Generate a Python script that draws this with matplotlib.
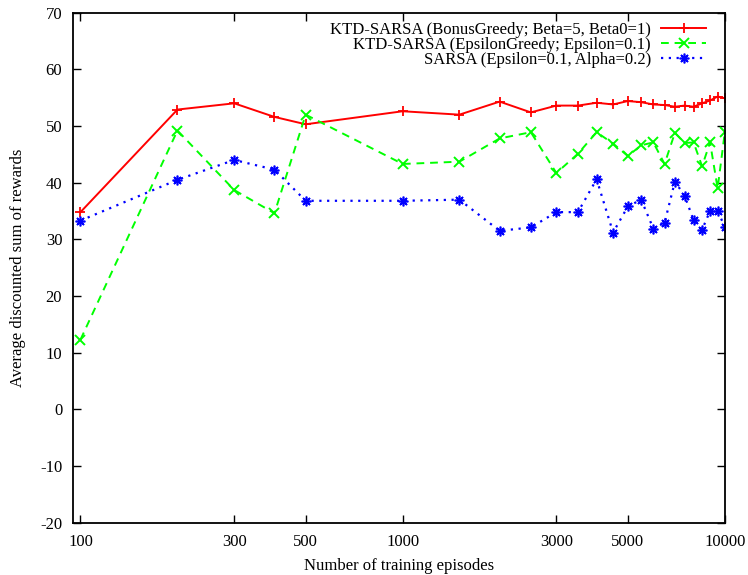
import matplotlib
matplotlib.use("Agg")
import matplotlib.pyplot as plt
from matplotlib.ticker import FixedLocator, FixedFormatter, NullLocator

plt.rcParams['font.family'] = ['Liberation Serif', 'DejaVu Serif']
plt.rcParams['axes.unicode_minus'] = False

episodes = [100, 200, 300, 400, 500, 1000, 1500, 2000, 2500, 3000, 3500, 4000,
            4500, 5000, 5500, 6000, 6500, 7000, 7500, 8000, 8500, 9000, 9500, 10000]

ktd_bonus = [34.8, 52.9, 54.0, 51.6, 50.3, 52.6, 52.0, 54.3, 52.4, 53.6, 53.6, 54.1,
             53.8, 54.4, 54.2, 53.8, 53.7, 53.4, 53.6, 53.4, 54.0, 54.5, 55.2, 54.9]

ktd_eps = [12.3, 49.2, 38.7, 34.6, 52.0, 43.3, 43.7, 47.8, 48.9, 41.7, 45.1, 48.9,
           46.9, 44.7, 46.6, 47.1, 43.3, 48.8, 47.0, 47.1, 42.9, 47.1, 39.0, 48.9]

sarsa = [33.3, 40.5, 44.0, 42.3, 36.8, 36.8, 37.0, 31.5, 32.1, 34.8, 34.8, 40.6,
         31.2, 35.8, 37.0, 31.9, 32.9, 40.2, 37.7, 33.4, 31.7, 35.0, 35.0, 32.2]

labels = ["KTD-SARSA (BonusGreedy; Beta=5, Beta0=1)",
          "KTD-SARSA (EpsilonGreedy; Epsilon=0.1)",
          "SARSA (Epsilon=0.1, Alpha=0.2)"]

xticks = [100, 300, 500, 1000, 3000, 5000, 10000]
xticklabels = ["100", "300", "500", "1000", "3000", "5000", "10000"]
yticks = list(range(-20, 71, 10))

fig = plt.figure(figsize=(7.48, 5.75), dpi=100)
ax = fig.add_axes([0.098, 0.091, 0.871, 0.887])

ax.plot(episodes, ktd_bonus, color='#ff0000', linestyle='-', linewidth=1.4,
        marker='+', markersize=7.5, markeredgewidth=1.3, label=labels[0])
ax.plot(episodes, ktd_eps, color='#00ff00', linestyle=(0, (4, 3)), linewidth=1.4,
        marker='x', markersize=6.5, markeredgewidth=1.4, label=labels[1])
ax.plot(episodes, sarsa, color='#0000ff', linestyle=(0, (1, 2.5)), linewidth=1.6,
        marker=(8, 2, 0), markersize=7, markeredgewidth=1.2, label=labels[2])

ax.set_xscale('log')
ax.set_xlim(95, 10000)
ax.set_ylim(-20, 70)
ax.xaxis.set_major_locator(FixedLocator(xticks))
ax.xaxis.set_major_formatter(FixedFormatter(xticklabels))
ax.xaxis.set_minor_locator(NullLocator())
ax.set_yticks(yticks)
ax.tick_params(axis='both', which='major', direction='in', length=6, width=1,
               top=True, right=True, labelsize=12, pad=8)
for s in ax.spines.values():
    s.set_linewidth(1.3)

ax.set_xlabel("Number of training episodes", fontsize=12, labelpad=6)
ax.set_ylabel("Average discounted sum of rewards", fontsize=12, labelpad=10)

leg = ax.legend(loc='upper right', bbox_to_anchor=(0.986, 1.0), frameon=False,
                markerfirst=False, fontsize=12, handlelength=2.7,
                borderaxespad=0.0, borderpad=0.58, labelspacing=-0.08,
                handletextpad=0.6)
for t in leg.get_texts():
    t.set_ha('right')
leg._legend_box.align = 'right'

fig.savefig("out.png", dpi=100)
